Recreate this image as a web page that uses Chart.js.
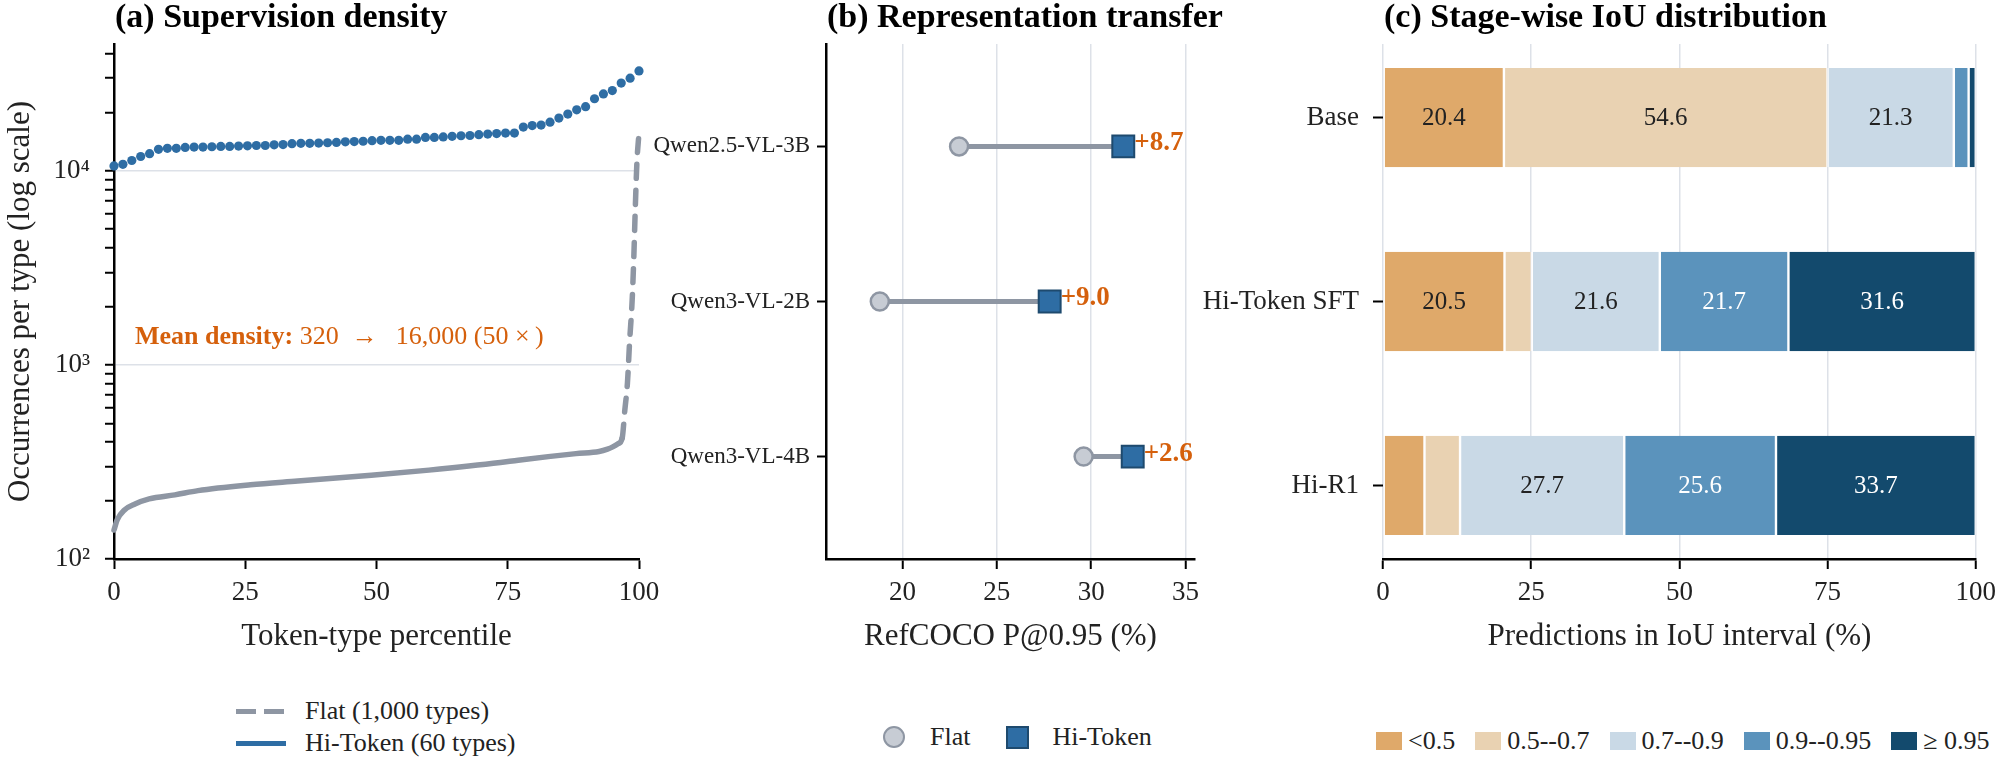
<!DOCTYPE html>
<html>
<head>
<meta charset="utf-8">
<title>Hi-Token figure</title>
<script src="https://cdn.jsdelivr.net/npm/chart.js@4.4.1/dist/chart.umd.min.js"></script>
<style>
  html, body { margin: 0; padding: 0; background: #fff; }
  #fig { position: relative; width: 2004px; height: 772px; overflow: hidden;
         font-family: "Liberation Serif", "Times New Roman", Times, serif; color: #222; }
  #fig canvas { position: absolute; top: 0; }
  .panel-title { position: absolute; top: -1px; font-size: 34px; line-height: 34px; font-weight: bold;
                 color: #000; white-space: nowrap; }
  .legend { position: absolute; font-size: 26px; line-height: 32px; white-space: nowrap; }
  .legend .row { display: flex; align-items: center; height: 32px; }
  .swatch { flex: none; box-sizing: border-box; }
</style>
</head>
<body>
<div id="fig">
  <canvas id="density" width="680" height="680" style="left:0px"></canvas>
  <canvas id="transfer" width="620" height="680" style="left:620px"></canvas>
  <canvas id="iou" width="834" height="680" style="left:1170px"></canvas>

  <div class="panel-title" style="left:115px">(a) Supervision density</div>
  <div class="panel-title" style="left:827px">(b) Representation transfer</div>
  <div class="panel-title" style="left:1384px">(c) Stage-wise IoU distribution</div>

  <div id="legendDensity" class="legend" style="left:236px; top:695px"></div>
  <div id="legendTransfer" class="legend" style="left:883px; top:721px"></div>
  <div id="legendIou" class="legend" style="left:1376px; top:725px"></div>
</div>

<script>
// ---------------------------------------------------------------
// (a) Supervision density: occurrences per token type
// ---------------------------------------------------------------
const hiTokenCounts = [
  10600, 10800, 11300, 11850, 12250, 12900, 13050, 13050, 13200, 13250,
  13250, 13300, 13350, 13350, 13400, 13450, 13500, 13500, 13600, 13650,
  13800, 13850, 13850, 13900, 13950, 14000, 14100, 14150, 14200, 14300,
  14350, 14350, 14350, 14550, 14550, 14850, 14850, 14950, 15050, 15150,
  15200, 15350, 15450, 15550, 15650, 15650, 16800, 17100, 17200, 17800,
  18700, 19600, 20600, 21400, 23500, 24900, 25900, 28300, 30000, 32700
];
const flatPercentile = [0, 0.6, 2, 4, 6.7, 11.6, 16, 26, 35, 49, 60, 73.6, 77, 88,
  92.4, 94, 95, 96, 96.8, 97.3, 97.8, 98.2, 98.7, 99.0, 99.3, 99.6, 100];
const flatCounts = [141, 159, 179, 192, 204, 214, 225, 241, 252, 270, 287, 314, 323, 349,
  358, 368, 378, 392, 420, 585, 808, 1300, 2160, 3500, 6500, 11000, 15700];
const densityTicks = [100, 200, 300, 400, 500, 600, 700, 800, 900,
  1000, 2000, 3000, 4000, 5000, 6000, 7000, 8000, 9000,
  10000, 20000, 30000, 40000];
const densityLabels = { 100: '10\u00b2', 1000: '10\u00b3', 10000: '10\u2074' };
const densityNote = ['Mean density:', ' 320\u2002\u2192\u2002\u200916,000 (50 \u00d7\u2009)'];

// ---------------------------------------------------------------
// (b) Representation transfer: RefCOCO P@0.95
// ---------------------------------------------------------------
const models = ['Qwen2.5-VL-3B', 'Qwen3-VL-2B', 'Qwen3-VL-4B'];
const flatP95 = [23.0, 18.8, 29.6];
const hiTokenP95 = [31.7, 27.8, 32.2];
const p95Ticks = [20, 25, 30, 35];

// ---------------------------------------------------------------
// (c) Stage-wise IoU distribution (% of predictions per interval)
// ---------------------------------------------------------------
const stages = ['Base', 'Hi-Token SFT', 'Hi-R1'];
const iouBins = ['<0.5', '0.5--0.7', '0.7--0.9', '0.9--0.95', '\u2265 0.95'];
const baseShares = [20.4, 54.6, 21.3, 2.5, 1.2];
const sftShares = [20.5, 4.6, 21.6, 21.7, 31.6];
const r1Shares = [7.0, 6.0, 27.7, 25.6, 33.7];

// ---- styling ----
const FONT = '"Liberation Serif", "Times New Roman", Times, serif';
const INK = '#222';
const BLUE = '#2E6DA4';
const NAVY = '#1E4A6E';
const GREY = '#8E96A3';
const GREY_FILL = '#C7CCD4';
const ORANGE = '#D5600C';
const GRID = '#DDE1E8';
const binColors = ['#DFA96A', '#E9D2B2', '#C9D9E6', '#5B93BC', '#134A6D'];
const binText = [INK, INK, INK, '#fff', '#fff'];

Chart.defaults.font.family = FONT;
Chart.defaults.color = INK;

const base = {
  responsive: false,
  animation: false,
  events: [],
  plugins: { legend: { display: false }, tooltip: { enabled: false } }
};
const tickFont = { size: 27 };
const titleFont = { size: 31 };
const spine = { color: '#000', width: 2.5 };

// ---------------------------------------------------------------
// chart (a)
// ---------------------------------------------------------------
const densityAnnotation = {
  id: 'densityAnnotation',
  afterDatasetsDraw(chart) {
    const { ctx, scales: { x, y } } = chart;
    const px = x.getPixelForValue(4);
    const py = y.getPixelForValue(1280);
    ctx.save();
    ctx.fillStyle = ORANGE;
    ctx.textAlign = 'left';
    ctx.textBaseline = 'alphabetic';
    ctx.font = 'bold 26px ' + FONT;
    ctx.fillText(densityNote[0], px, py);
    const w = ctx.measureText(densityNote[0]).width;
    ctx.font = '26px ' + FONT;
    ctx.fillText(densityNote[1], px + w, py);
    ctx.restore();
  }
};

new Chart(document.getElementById('density'), {
  type: 'scatter',
  data: {
    datasets: [
      {
        label: 'Hi-Token (60 types)',
        data: hiTokenCounts.map((v, i) => ({ x: 100 * i / (hiTokenCounts.length - 1), y: v })),
        showLine: false,
        pointRadius: 4.6,
        pointBackgroundColor: BLUE,
        pointBorderWidth: 0,
        clip: false
      },
      {
        label: 'Flat (1,000 types)',
        data: flatPercentile.map((p, i) => ({ x: p, y: flatCounts[i] })),
        showLine: true,
        pointRadius: 0,
        borderColor: GREY,
        borderWidth: 5.5,
        borderCapStyle: 'round',
        borderJoinStyle: 'round',
        cubicInterpolationMode: 'monotone',
        segment: { borderDash: c => c.p0.parsed.x >= 96.8 ? [14, 12] : undefined },
        clip: false
      }
    ]
  },
  options: {
    ...base,
    layout: { padding: { top: 44, right: 41, left: 0, bottom: 0 } },
    scales: {
      x: {
        type: 'linear', min: 0, max: 100,
        afterFit: s => { s.height = 121; },
        ticks: { stepSize: 25, font: tickFont, padding: 8, color: INK },
        grid: { drawOnChartArea: false, tickColor: '#000', tickLength: 10, tickWidth: 2 },
        border: spine,
        title: { display: true, text: 'Token-type percentile', font: titleFont, color: INK, padding: { top: 0, bottom: 25 } }
      },
      y: {
        type: 'logarithmic', min: 100, max: 45000,
        afterBuildTicks: s => { s.ticks = densityTicks.map(v => ({ value: v })); },
        afterFit: s => { s.width = 114; },
        ticks: { callback: v => densityLabels[v] || '', autoSkip: false, font: tickFont, padding: 15, color: INK },
        grid: {
          color: c => (c.tick && (c.tick.value === 1000 || c.tick.value === 10000)) ? GRID : 'rgba(0,0,0,0)',
          lineWidth: 1.5, tickColor: '#000', tickLength: 9, tickWidth: 2
        },
        border: spine,
        title: { display: true, text: 'Occurrences per type (log scale)', font: titleFont, color: INK, padding: { top: 2, bottom: 0 } }
      }
    }
  },
  plugins: [densityAnnotation]
});

// ---------------------------------------------------------------
// chart (b)
// ---------------------------------------------------------------
const gainLabels = {
  id: 'gainLabels',
  afterDatasetsDraw(chart) {
    const { ctx, scales: { x, y } } = chart;
    ctx.save();
    ctx.fillStyle = ORANGE;
    ctx.font = 'bold 27px ' + FONT;
    ctx.textAlign = 'left';
    ctx.textBaseline = 'middle';
    models.forEach((m, i) => {
      const gain = '+' + (hiTokenP95[i] - flatP95[i]).toFixed(1);
      ctx.fillText(gain, x.getPixelForValue(hiTokenP95[i]) + 11, y.getPixelForValue(i) - 3);
    });
    ctx.restore();
  }
};

new Chart(document.getElementById('transfer'), {
  type: 'scatter',
  data: {
    datasets: [
      {
        label: 'Hi-Token',
        data: models.map((m, i) => ({ x: hiTokenP95[i], y: i })),
        pointStyle: 'rect', pointRadius: 15.5,
        pointBackgroundColor: BLUE, pointBorderColor: NAVY, pointBorderWidth: 2,
        clip: false
      },
      {
        label: 'Flat',
        data: models.map((m, i) => ({ x: flatP95[i], y: i })),
        pointStyle: 'circle', pointRadius: 9,
        pointBackgroundColor: GREY_FILL, pointBorderColor: GREY, pointBorderWidth: 2.5,
        clip: false
      },
      ...models.map((m, i) => ({
        label: m,
        data: [{ x: flatP95[i], y: i }, { x: hiTokenP95[i], y: i }],
        showLine: true, pointRadius: 0, borderColor: GREY, borderWidth: 5
      }))
    ]
  },
  options: {
    ...base,
    layout: { padding: { top: 44, right: 45, left: 0, bottom: 0 } },
    scales: {
      x: {
        type: 'linear', min: 15.95, max: 35.5,
        afterBuildTicks: s => { s.ticks = p95Ticks.map(v => ({ value: v })); },
        afterFit: s => { s.height = 121; },
        ticks: { font: tickFont, padding: 8, color: INK },
        grid: { color: GRID, lineWidth: 1.5, tickColor: '#000', tickLength: 10, tickWidth: 2 },
        border: spine,
        title: { display: true, text: 'RefCOCO P@0.95 (%)', font: titleFont, color: INK, padding: { top: 0, bottom: 25 } }
      },
      y: {
        type: 'linear', reverse: true, min: -0.66, max: 2.66,
        afterBuildTicks: s => { s.ticks = models.map((m, i) => ({ value: i })); },
        afterFit: s => { s.width = 206; },
        ticks: { callback: v => models[v], autoSkip: false, font: { size: 23 }, padding: 7, color: INK },
        grid: { drawOnChartArea: false, tickColor: '#000', tickLength: 9, tickWidth: 2 },
        border: spine
      }
    }
  },
  plugins: [gainLabels]
});

// ---------------------------------------------------------------
// chart (c)
// ---------------------------------------------------------------
const stageShares = [baseShares, sftShares, r1Shares];

const shareLabels = {
  id: 'shareLabels',
  afterDatasetsDraw(chart) {
    const { ctx } = chart;
    ctx.save();
    ctx.font = '25px ' + FONT;
    ctx.textAlign = 'center';
    ctx.textBaseline = 'middle';
    chart.data.datasets.forEach((ds, k) => {
      chart.getDatasetMeta(k).data.forEach((bar, i) => {
        const v = ds.data[i].x;
        if (v < 15) return;
        const { x, y, base: b } = bar.getProps(['x', 'y', 'base'], true);
        ctx.fillStyle = binText[k];
        ctx.fillText(v.toFixed(1), (x + b) / 2, y + 1);
      });
    });
    ctx.restore();
  }
};

new Chart(document.getElementById('iou'), {
  type: 'bar',
  data: {
    datasets: iouBins.map((bin, k) => ({
      label: bin,
      data: stageShares.map((shares, i) => ({ y: i, x: shares[k] })),
      backgroundColor: binColors[k],
      borderColor: '#fff',
      borderWidth: { left: 1.2, right: 1.2, top: 0, bottom: 0 },
      borderSkipped: false,
      categoryPercentage: 1,
      barPercentage: 0.54
    }))
  },
  options: {
    ...base,
    indexAxis: 'y',
    layout: { padding: { top: 44, right: 21, left: 0, bottom: 0 } },
    scales: {
      x: {
        type: 'linear', min: 0, max: 100, stacked: true,
        afterFit: s => { s.height = 121; },
        ticks: { stepSize: 25, font: tickFont, padding: 8, color: INK },
        grid: { color: GRID, lineWidth: 1.5, tickColor: '#000', tickLength: 10, tickWidth: 2 },
        border: spine,
        title: { display: true, text: 'Predictions in IoU interval (%)', font: titleFont, color: INK, padding: { top: 0, bottom: 25 } }
      },
      y: {
        type: 'linear', reverse: true, min: -0.4, max: 2.4, stacked: true, offset: false,
        afterBuildTicks: s => { s.ticks = stages.map((st, i) => ({ value: i })); },
        afterFit: s => { s.width = 213; },
        ticks: { callback: v => stages[v], autoSkip: false, font: tickFont, padding: 14, color: INK },
        grid: { offset: false, drawOnChartArea: false, tickColor: '#000', tickLength: 10, tickWidth: 2 },
        border: { display: false }
      }
    }
  },
  plugins: [shareLabels]
});

// ---------------------------------------------------------------
// legends (HTML)
// ---------------------------------------------------------------
function el(tag, style, text) {
  const e = document.createElement(tag);
  if (style) e.style.cssText = style;
  if (text !== undefined) e.textContent = text;
  return e;
}

// (a) two rows, line samples
const legA = document.getElementById('legendDensity');
[
  { text: 'Flat (1,000 types)', swatch: 'width:48px;height:5px;margin-right:21px;background:repeating-linear-gradient(90deg,' + GREY + ' 0 20px, transparent 20px 28px);' },
  { text: 'Hi-Token (60 types)', swatch: 'width:50px;height:5px;margin-right:19px;background:' + BLUE + ';' }
].forEach(item => {
  const row = el('div');
  row.className = 'row';
  const sw = el('span', item.swatch);
  sw.className = 'swatch';
  row.appendChild(sw);
  row.appendChild(el('span', '', item.text));
  legA.appendChild(row);
});

// (b) markers
const legB = document.getElementById('legendTransfer');
const rowB = el('div');
rowB.className = 'row';
[
  { text: 'Flat', swatch: 'width:22px;height:22px;border-radius:50%;background:' + GREY_FILL + ';border:2.5px solid ' + GREY + ';margin-right:25px;' },
  { text: 'Hi-Token', swatch: 'width:23px;height:23px;background:' + BLUE + ';border:2px solid ' + NAVY + ';margin-left:36px;margin-right:23px;' }
].forEach(item => {
  const sw = el('span', item.swatch);
  sw.className = 'swatch';
  rowB.appendChild(sw);
  rowB.appendChild(el('span', '', item.text));
});
legB.appendChild(rowB);

// (c) colour boxes
const legC = document.getElementById('legendIou');
const rowC = el('div');
rowC.className = 'row';
iouBins.forEach((bin, k) => {
  const sw = el('span', 'width:26px;height:18px;margin-right:6px;background:' + binColors[k] + ';' + (k ? 'margin-left:20px;' : ''));
  sw.className = 'swatch';
  rowC.appendChild(sw);
  rowC.appendChild(el('span', '', bin));
});
legC.appendChild(rowC);
</script>
</body>
</html>
